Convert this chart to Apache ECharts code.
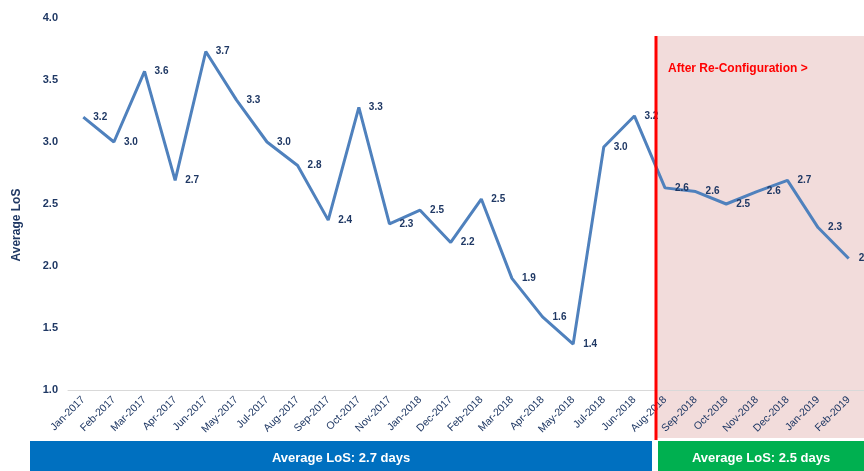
<!DOCTYPE html>
<html>
<head>
<meta charset="utf-8">
<script src="https://cdn.jsdelivr.net/npm/echarts@6/dist/echarts.min.js"></script>
<style>
  html, body { margin: 0; padding: 0; background: #fff; }
  #chart { width: 864px; height: 471px; }
</style>
</head>
<body>
<div id="chart"></div>
<script>
var months = ['Jan-2017', 'Feb-2017', 'Mar-2017', 'Apr-2017', 'Jun-2017', 'May-2017', 'Jul-2017',
  'Aug-2017', 'Sep-2017', 'Oct-2017', 'Nov-2017', 'Jan-2018', 'Dec-2017', 'Feb-2018', 'Mar-2018',
  'Apr-2018', 'May-2018', 'Jul-2018', 'Jun-2018', 'Aug-2018', 'Sep-2018', 'Oct-2018', 'Nov-2018',
  'Dec-2018', 'Jan-2019', 'Feb-2019'];
var avgLos = [3.20, 3.00, 3.57, 2.69, 3.73, 3.34, 3.00, 2.81, 2.37, 3.28, 2.34, 2.45, 2.19, 2.54,
  1.90, 1.59, 1.37, 2.96, 3.21, 2.63, 2.60, 2.50, 2.60, 2.69, 2.31, 2.06];
var yTicks = { min: 1, max: 4, step: 0.5 };
var beforeLabel = 'Average LoS: 2.7 days';
var afterLabel = 'Average LoS: 2.5 days';
var lastBefore = 'Jun-2018';
var firstAfter = 'Aug-2018';

var navy = '#1F3864';
var lineBlue = '#4F81BD';
var font = '"Liberation Sans", Arial, sans-serif';

var chart = echarts.init(document.getElementById('chart'));

chart.setOption({
  animation: false,
  textStyle: { fontFamily: font },
  grid: { left: 68, right: 0, top: 18, bottom: 81 },
  xAxis: {
    type: 'category',
    data: months,
    boundaryGap: true,
    axisLine: { lineStyle: { color: '#D9D9D9', width: 1 } },
    axisTick: { show: false },
    axisLabel: {
      rotate: 45,
      interval: 0,
      margin: 8,
      color: navy,
      fontSize: 10.5,
      fontFamily: font
    }
  },
  yAxis: {
    type: 'value',
    min: yTicks.min,
    max: yTicks.max,
    interval: yTicks.step,
    axisLine: { show: false },
    axisTick: { show: false },
    splitLine: { show: false },
    axisLabel: {
      color: navy,
      fontWeight: 'bold',
      fontSize: 11,
      margin: 10,
      fontFamily: font,
      formatter: function(v) { return v.toFixed(1); }
    }
  },
  series: [{
    type: 'line',
    data: avgLos,
    showSymbol: true,
    symbol: 'circle',
    symbolSize: 0,
    z: 3,
    lineStyle: { color: lineBlue, width: 3 },
    itemStyle: { color: lineBlue },
    labelLayout: { hideOverlap: false },
    label: {
      show: true,
      position: 'right',
      distance: 10,
      color: navy,
      fontWeight: 'bold',
      fontSize: 10,
      fontFamily: font,
      formatter: function(p) { return p.value.toFixed(1); }
    }
  }]
});

// divider between the two periods, placed from the category axis
var xJun = chart.convertToPixel({ xAxisIndex: 0 }, lastBefore);
var xAug = chart.convertToPixel({ xAxisIndex: 0 }, firstAfter);
var divX = Math.round(xAug - (xAug - xJun) * 0.28);
var W = chart.getWidth();
var H = chart.getHeight();

chart.setOption({
  graphic: [
    {
      type: 'rect', z: -1, silent: true,
      shape: { x: divX, y: 36, width: W - divX, height: 402 },
      style: { fill: '#F2DCDB' }
    },
    {
      type: 'rect', z: 10, silent: true,
      shape: { x: divX - 1.5, y: 36, width: 3, height: 404 },
      style: { fill: '#FF0000' }
    },
    {
      type: 'text', z: 10, silent: true,
      x: divX + 12, y: 69,
      style: {
        text: 'After Re-Configuration >',
        fill: '#FF0000',
        font: 'bold 12px ' + font,
        verticalAlign: 'middle'
      }
    },
    {
      type: 'rect', silent: true,
      shape: { x: 30, y: 441, width: divX - 4 - 30, height: H - 441 },
      style: { fill: '#0070C0' }
    },
    {
      type: 'text', silent: true,
      x: (30 + divX - 4) / 2, y: 458,
      style: {
        text: beforeLabel,
        fill: '#fff',
        font: 'bold 13px ' + font,
        align: 'center',
        verticalAlign: 'middle'
      }
    },
    {
      type: 'rect', silent: true,
      shape: { x: divX + 2, y: 441, width: W - divX - 2, height: H - 441 },
      style: { fill: '#00B050' }
    },
    {
      type: 'text', silent: true,
      x: (divX + 2 + W) / 2, y: 458,
      style: {
        text: afterLabel,
        fill: '#fff',
        font: 'bold 13px ' + font,
        align: 'center',
        verticalAlign: 'middle'
      }
    },
    {
      type: 'text', silent: true,
      x: 17, y: 225, rotation: Math.PI / 2,
      style: {
        text: 'Average LoS',
        fill: navy,
        font: 'bold 12px ' + font,
        align: 'center',
        verticalAlign: 'middle'
      }
    }
  ]
});
</script>
</body>
</html>
